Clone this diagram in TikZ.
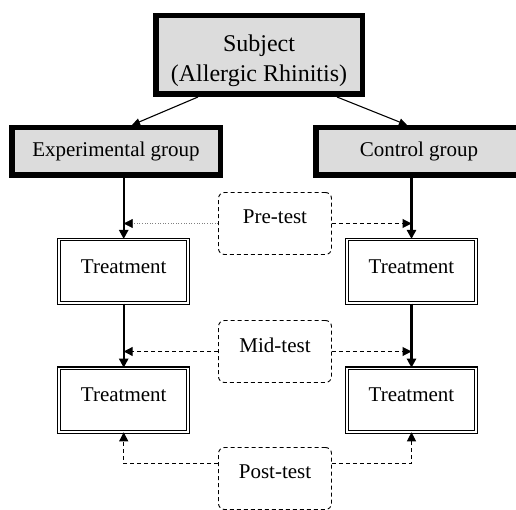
\documentclass[tikz,border=0pt]{standalone}
\usepackage{fontspec}
\setmainfont{Liberation Serif}
\usetikzlibrary{arrows.meta,positioning}
\definecolor{boxgray}{RGB}{220,220,220}

\begin{document}
\begin{tikzpicture}[x=1pt,y=-1pt,
  font=\rmfamily\fontsize{21}{25}\selectfont,
  bigbox/.style={draw,fill=boxgray,line width=5.5pt,inner sep=0pt},
  treatbox/.style={draw,double,double distance=1.5pt,line width=1.1pt,
    minimum width=129pt,minimum height=63.5pt,inner sep=0pt,text depth=10pt},
  testbox/.style={draw,dash pattern=on 4pt off 3pt,rounded corners=6pt,
    line width=0.9pt,minimum width=113pt,minimum height=62pt,inner sep=0pt,
    text depth=13pt},
  flow/.style={line width=2.2pt,-{Triangle[length=9pt,width=9pt]}},
  probe/.style={dash pattern=on 4pt off 3pt,line width=1pt,
    -{Triangle[length=9pt,width=9pt]}}]

\useasboundingbox (0,0) rectangle (516,510);

% Subject and the two groups
\node[bigbox,minimum width=206.5pt,minimum height=78.5pt,align=center,
  font=\rmfamily\fontsize{24}{30}\selectfont] (subj) at (259,55)
  {\rule{0pt}{29pt}Subject\\(Allergic Rhinitis)};
\node[bigbox,minimum width=208.5pt,minimum height=47.5pt] (expgrp) at (116,151.5) {Experimental group};
\node[bigbox,minimum width=206pt,minimum height=47.5pt] (ctrlgrp) at (419,151.5) {Control group};

% Treatment boxes
\node[treatbox] (trtA) at (123.7,271.3) {Treatment};
\node[treatbox] (trtB) at (123.7,400) {Treatment};
\node[treatbox] (trtC) at (411.5,271.3) {Treatment};
\node[treatbox] (trtD) at (411.5,400) {Treatment};

% Test boxes
\node[testbox] (pre) at (275,223.5) {Pre-test};
\node[testbox] (mid) at (275,351.5) {Mid-test};
\node[testbox] (post) at (275,478.5) {Post-test};

% Split into groups
\draw[line width=1.1pt,-{Triangle[length=8pt,width=7pt]}]
  ([xshift=45pt]subj.south west) -- ([xshift=16pt]expgrp.north);
\draw[line width=1.1pt,-{Triangle[length=8pt,width=7pt]}]
  ([xshift=-28pt]subj.south east) -- ([xshift=-12pt]ctrlgrp.north);

% Main flow
\draw[flow] (expgrp.south -| trtA.north) -- (trtA.north);
\draw[flow] (trtA) -- (trtB);
\draw[flow] (ctrlgrp.south -| trtC.north) -- (trtC.north);
\draw[flow] (trtC) -- (trtD);

% Tests
\draw[dotted,gray,line width=0.6pt,-{Triangle[black,length=9pt,width=9pt]}]
  (pre.west) -- (pre.west -| trtA.north);
\draw[probe] (pre.east) -- (pre.east -| trtC.north);
\draw[probe] (mid.west) -- (mid.west -| trtA.north);
\draw[probe] (mid.east) -- (mid.east -| trtC.north);
\draw[probe] ([yshift=15pt]post.west) -| (trtB.south);
\draw[probe] ([yshift=15pt]post.east) -| (trtD.south);

\end{tikzpicture}
\end{document}
